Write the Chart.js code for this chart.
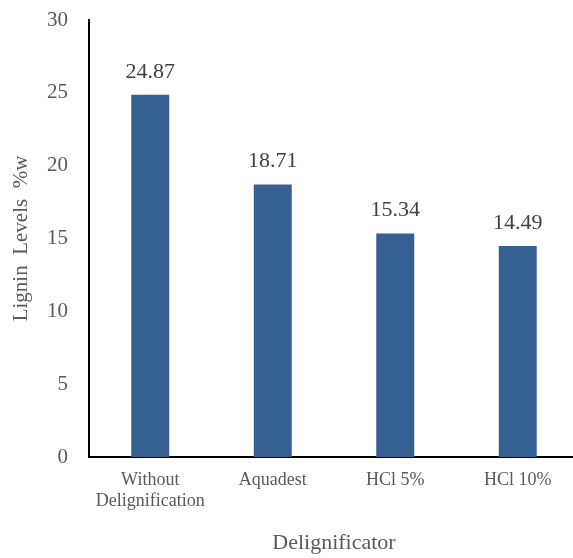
<!DOCTYPE html>
<html>
<head>
<meta charset="utf-8">
<script src="https://cdn.jsdelivr.net/npm/chart.js@4"></script>
<style>
  html, body { margin: 0; padding: 0; background: #fff; overflow: hidden; }
  #wrap { width: 580px; height: 558px; }
</style>
</head>
<body>
<div id="wrap"><canvas id="ligninChart" width="580" height="558"></canvas></div>
<script>
const categories = [['Without', 'Delignification'], 'Aquadest', 'HCl 5%', 'HCl 10%'];
const ligninValues = [24.87, 18.71, 15.34, 14.49];
const valueLabels = ['24.87', '18.71', '15.34', '14.49'];

const serif = '"Liberation Serif", "Times New Roman", serif';
const textColor = '#595959';

// draws the value above each bar, Excel style
const barValues = {
    id: 'barValues',
    afterDatasetsDraw(chart) {
        const ctx = chart.ctx;
        const meta = chart.getDatasetMeta(0);
        ctx.save();
        ctx.font = '22px ' + serif;
        ctx.fillStyle = '#404040';
        ctx.textAlign = 'center';
        ctx.textBaseline = 'bottom';
        meta.data.forEach((bar, i) => {
            ctx.fillText(valueLabels[i], bar.x, bar.y - 12);
        });
        ctx.restore();
    }
};

new Chart(document.getElementById('ligninChart'), {
    type: 'bar',
    data: {
        labels: categories,
        datasets: [{
            data: ligninValues,
            backgroundColor: '#365F92',
            barPercentage: 0.31,
            categoryPercentage: 1
        }]
    },
    options: {
        responsive: false,
        animation: false,
        layout: { padding: { top: 20, right: 1, left: 0, bottom: 0 } },
        plugins: {
            legend: { display: false },
            tooltip: { enabled: false }
        },
        scales: {
            x: {
                grid: { display: false },
                border: { display: true, color: '#000', width: 2 },
                ticks: { color: textColor, font: { family: serif, size: 18 }, padding: 4, maxRotation: 0 },
                title: {
                    display: true,
                    text: 'Delignificator',
                    color: textColor,
                    font: { family: serif, size: 22 },
                    padding: { top: 0, bottom: 2 }
                },
                afterFit(scale) { scale.height = 101; scale.paddingLeft = 0; scale.paddingRight = 0; }
            },
            y: {
                min: 0,
                max: 30,
                grid: { display: false },
                border: { display: true, color: '#000', width: 2 },
                ticks: { stepSize: 5, color: textColor, font: { family: serif, size: 21 }, padding: 13 },
                title: {
                    display: true,
                    text: 'Lignin  Levels  %w',
                    color: textColor,
                    font: { family: serif, size: 21 },
                    padding: { top: 9, bottom: 0 }
                },
                afterFit(scale) { scale.width = 89; scale.paddingTop = 0; scale.paddingBottom = 0; }
            }
        }
    },
    plugins: [barValues]
});
</script>
</body>
</html>
